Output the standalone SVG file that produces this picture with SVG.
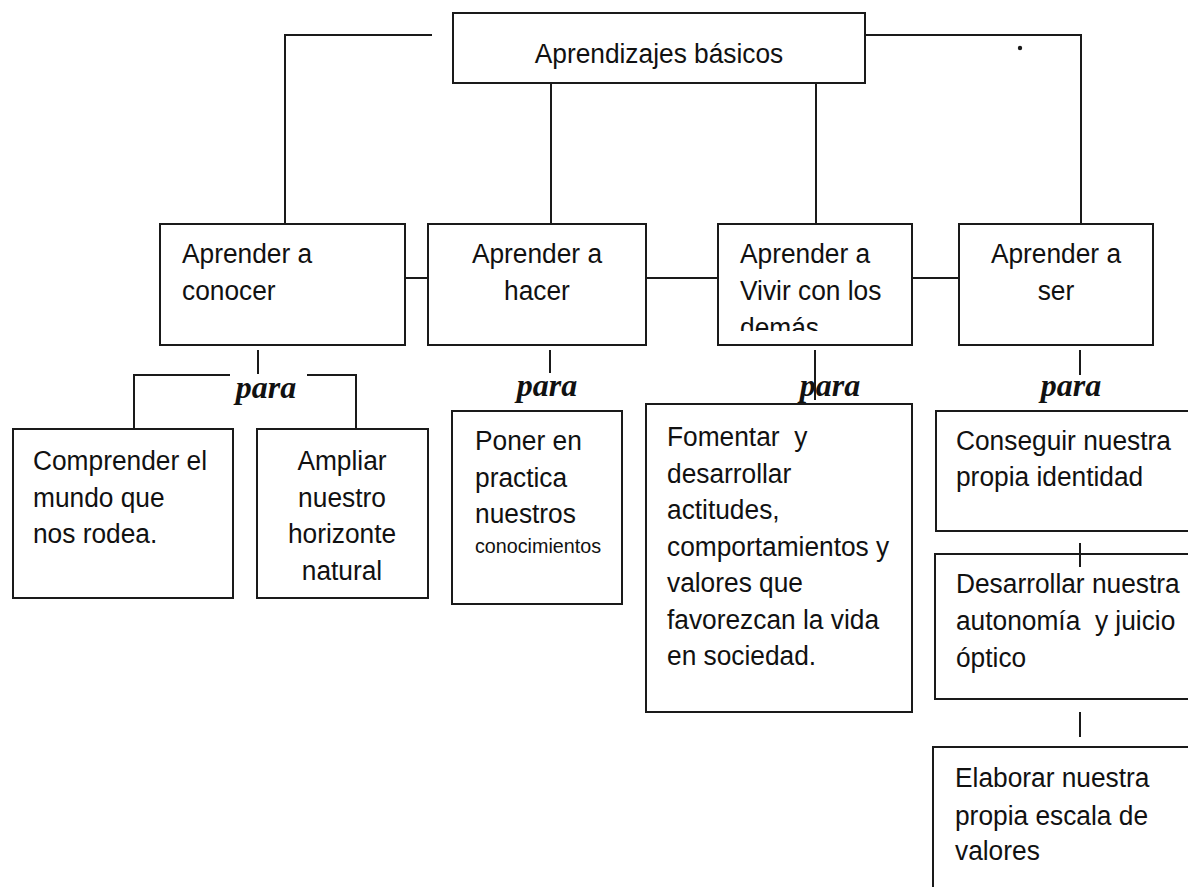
<svg xmlns="http://www.w3.org/2000/svg" width="1188" height="887" viewBox="0 0 1188 887">
<style>
.box{fill:#fff;stroke:#1a1a1a;stroke-width:2}
.t{font-family:"Liberation Sans",Arial,sans-serif;font-size:28px;fill:#111}
.c{text-anchor:middle}
.s{font-size:21px}
.para{font-family:"Liberation Serif","Times New Roman",serif;font-weight:bold;font-style:italic;font-size:32px;fill:#111;text-anchor:middle}
.ln{fill:none;stroke:#1a1a1a;stroke-width:2}
</style>
<defs>
<clipPath id="clip3"><rect x="718" y="224" width="194" height="107"/></clipPath>
</defs>
<rect width="1188" height="887" fill="#fff"/>
<g id="top">
<rect class="box" x="453" y="13" width="412" height="70"/>
<g transform="translate(659 0) scale(0.94 1) translate(-659 0)">
<text class="t c" x="659" y="63">Aprendizajes básicos</text>
</g>
</g>
<g id="conocer">
<rect class="box" x="160" y="224" width="245" height="121"/>
<g transform="translate(182 0) scale(0.94 1) translate(-182 0)">
<text class="t" x="182" y="263">Aprender a</text>
<text class="t" x="182" y="300">conocer</text>
</g>
</g>
<g id="hacer">
<rect class="box" x="428" y="224" width="218" height="121"/>
<g transform="translate(537 0) scale(0.94 1) translate(-537 0)">
<text class="t c" x="537" y="263">Aprender a</text>
<text class="t c" x="537" y="300">hacer</text>
</g>
</g>
<g id="vivir">
<rect class="box" x="718" y="224" width="194" height="121"/>
<g clip-path="url(#clip3)">
<g transform="translate(740 0) scale(0.94 1) translate(-740 0)">
<text class="t" x="740" y="263">Aprender a</text>
<text class="t" x="740" y="300">Vivir con los</text>
<text class="t" x="740" y="337">demás</text>
</g>
</g>
</g>
<g id="ser">
<rect class="box" x="959" y="224" width="194" height="121"/>
<g transform="translate(1056 0) scale(0.94 1) translate(-1056 0)">
<text class="t c" x="1056" y="263">Aprender a</text>
<text class="t c" x="1056" y="300">ser</text>
</g>
</g>
<g id="comprender">
<rect class="box" x="13" y="429" width="220" height="169"/>
<g transform="translate(33 0) scale(0.94 1) translate(-33 0)">
<text class="t" x="33" y="470">Comprender el</text>
<text class="t" x="33" y="507">mundo que</text>
<text class="t" x="33" y="543">nos rodea.</text>
</g>
</g>
<g id="ampliar">
<rect class="box" x="257" y="429" width="171" height="169"/>
<g transform="translate(342 0) scale(0.94 1) translate(-342 0)">
<text class="t c" x="342" y="470">Ampliar</text>
<text class="t c" x="342" y="507">nuestro</text>
<text class="t c" x="342" y="543">horizonte</text>
<text class="t c" x="342" y="580">natural</text>
</g>
</g>
<g id="poner">
<rect class="box" x="452" y="411" width="170" height="193"/>
<g transform="translate(475 0) scale(0.94 1) translate(-475 0)">
<text class="t" x="475" y="450">Poner en</text>
<text class="t" x="475" y="487">practica</text>
<text class="t" x="475" y="523">nuestros</text>
<text class="t s" x="475" y="553">conocimientos</text>
</g>
</g>
<g id="fomentar">
<rect class="box" x="646" y="404" width="266" height="308"/>
<g transform="translate(667 0) scale(0.94 1) translate(-667 0)">
<text class="t" x="667" y="446" xml:space="preserve">Fomentar  y</text>
<text class="t" x="667" y="483">desarrollar</text>
<text class="t" x="667" y="519">actitudes,</text>
<text class="t" x="667" y="556">comportamientos y</text>
<text class="t" x="667" y="592">valores que</text>
<text class="t" x="667" y="629">favorezcan la vida</text>
<text class="t" x="667" y="665">en sociedad.</text>
</g>
</g>
<g id="conseguir">
<rect class="box" x="936" y="411" width="270" height="120"/>
<g transform="translate(956 0) scale(0.94 1) translate(-956 0)">
<text class="t" x="956" y="450">Conseguir nuestra</text>
<text class="t" x="956" y="486">propia identidad</text>
</g>
</g>
<g id="desarrollar">
<rect class="box" x="935" y="554" width="270" height="145"/>
<g transform="translate(956 0) scale(0.94 1) translate(-956 0)">
<text class="t" x="956" y="593">Desarrollar nuestra</text>
<text class="t" x="956" y="630" xml:space="preserve">autonomía  y juicio</text>
<text class="t" x="956" y="667">óptico</text>
</g>
</g>
<g id="elaborar">
<rect class="box" x="933" y="747" width="270" height="160"/>
<g transform="translate(955 0) scale(0.94 1) translate(-955 0)">
<text class="t" x="955" y="787">Elaborar nuestra</text>
<text class="t" x="955" y="825">propia escala de</text>
<text class="t" x="955" y="860">valores</text>
</g>
</g>
<g id="labels">
<text class="para" x="266" y="398">para</text>
<text class="para" x="547" y="396">para</text>
<text class="para" x="830" y="396">para</text>
<text class="para" x="1071" y="396">para</text>
</g>
<g id="connectors">
<path class="ln" d="M432 35 H285 V224"/>
<path class="ln" d="M865 35 H1081 V224"/>
<path class="ln" d="M551 83 V224"/>
<path class="ln" d="M816 83 V224"/>
<path class="ln" d="M405 278 H428"/>
<path class="ln" d="M646 278 H718"/>
<path class="ln" d="M912 278 H959"/>
<path class="ln" d="M258 350 V374"/>
<path class="ln" d="M230 375 H134 V429"/>
<path class="ln" d="M307 375 H356 V429"/>
<path class="ln" d="M550 350 V373"/>
<path class="ln" d="M815 350 V400"/>
<path class="ln" d="M1080 350 V375"/>
<path class="ln" d="M1080 543 V567"/>
<path class="ln" d="M1080 712 V737"/>
<circle cx="1020" cy="48" r="2.2" fill="#1a1a1a"/>
</g>
</svg>
